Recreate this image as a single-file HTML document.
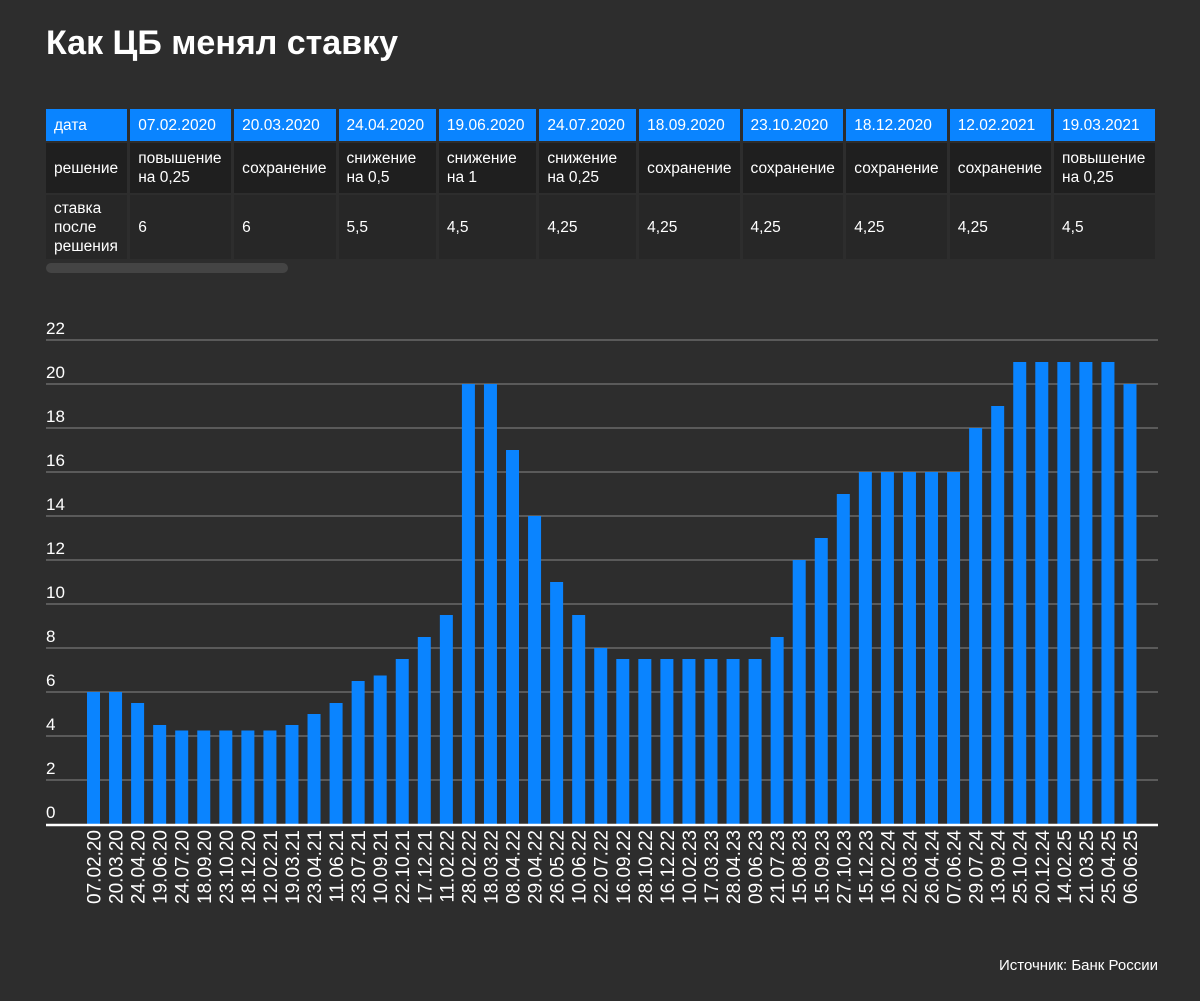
<!DOCTYPE html>
<html><head><meta charset="utf-8"><style>
body{margin:0;background:#2d2d2d;font-family:"Liberation Sans",sans-serif;color:#fff;}
#wrap{position:relative;width:1200px;height:1001px;overflow:hidden;background:#2d2d2d;}
h1{position:absolute;left:46px;top:24px;margin:0;font-size:34px;font-weight:bold;}
table{position:absolute;left:46px;top:107px;border-collapse:separate;border-spacing:3px 2px;margin-left:-3px;font-size:15.5px;}
td{padding:0 8px;vertical-align:middle;white-space:nowrap;line-height:19px;}
tr.h td{background:#0a84ff;height:32px;}
tr.r1 td{background:#1f1f1f;height:50px;}
tr.r2 td{background:#272727;height:64px;}
#scroll{position:absolute;left:46px;top:263px;width:242px;height:10px;border-radius:5px;background:#444;}
#src{position:absolute;right:42px;top:957px;font-size:15px;}
</style></head><body>
<div id="wrap">
<h1>Как ЦБ менял ставку</h1>
<div style="position:absolute;left:43px;top:0;width:1115px;height:300px;overflow:hidden">
<table style="left:3px">
<tr class="h"><td style="width:66px">дата</td><td style="width:86px">07.02.2020</td><td style="width:86px">20.03.2020</td><td style="width:84px">24.04.2020</td><td style="width:84px">19.06.2020</td><td style="width:83px">24.07.2020</td><td style="width:84px">18.09.2020</td><td style="width:85px">23.10.2020</td><td style="width:84px">18.12.2020</td><td style="width:86px">12.02.2021</td><td style="width:86px">19.03.2021</td></tr>
<tr class="r1"><td>решение</td><td>повышение<br>на 0,25</td><td>сохранение</td><td>снижение<br>на 0,5</td><td>снижение<br>на 1</td><td>снижение<br>на 0,25</td><td>сохранение</td><td>сохранение</td><td>сохранение</td><td>сохранение</td><td>повышение<br>на 0,25</td></tr>
<tr class="r2"><td>ставка<br>после<br>решения</td><td>6</td><td>6</td><td>5,5</td><td>4,5</td><td>4,25</td><td>4,25</td><td>4,25</td><td>4,25</td><td>4,25</td><td>4,5</td></tr>
</table></div>
<div id="scroll"></div>
<svg id="chart" width="1200" height="1001" style="position:absolute;left:0;top:0"></svg>
<div id="src">Источник: Банк России</div>
</div>
<script>
const categories=["07.02.20","20.03.20","24.04.20","19.06.20","24.07.20","18.09.20","23.10.20","18.12.20","12.02.21","19.03.21","23.04.21","11.06.21","23.07.21","10.09.21","22.10.21","17.12.21","11.02.22","28.02.22","18.03.22","08.04.22","29.04.22","26.05.22","10.06.22","22.07.22","16.09.22","28.10.22","16.12.22","10.02.23","17.03.23","28.04.23","09.06.23","21.07.23","15.08.23","15.09.23","27.10.23","15.12.23","16.02.24","22.03.24","26.04.24","07.06.24","29.07.24","13.09.24","25.10.24","20.12.24","14.02.25","21.03.25","25.04.25","06.06.25"];
const rates=[6,6,5.5,4.5,4.25,4.25,4.25,4.25,4.25,4.5,5,5.5,6.5,6.75,7.5,8.5,9.5,20,20,17,14,11,9.5,8,7.5,7.5,7.5,7.5,7.5,7.5,7.5,8.5,12,13,15,16,16,16,16,16,18,19,21,21,21,21,21,20];
const yTicks=[0,2,4,6,8,10,12,14,16,18,20,22];
const NS="http://www.w3.org/2000/svg",svg=document.getElementById('chart');
const y0=824,pxPer=22,x0=93.5,step=(1130-93.5)/47,bw=13;
const yS=v=>y0-v*pxPer, xS=i=>x0+i*step;
function mk(t,a){const e=document.createElementNS(NS,t);for(const k in a)e.setAttribute(k,a[k]);svg.appendChild(e);return e;}
yTicks.forEach(v=>{
 if(v>0){const l=mk('line',{x1:46,x2:1158,y1:yS(v),y2:yS(v),stroke:'#6a6a6a','stroke-width':1.5});
 
 }
 const t=mk('text',{x:46,y:yS(v)-6,fill:'#fff','font-size':17,'font-family':'Liberation Sans, sans-serif'});
 t.textContent=v;
 
 
});
rates.forEach((v,i)=>{
 const r=mk('rect',{x:xS(i)-bw/2,y:yS(v),width:bw,height:v*pxPer,fill:'#0a84ff'});
 
 
 const t=mk('text',{transform:`translate(${xS(i)+7},830) rotate(-90)`,'text-anchor':'end',fill:'#fff','font-size':19,'font-family':'Liberation Sans, sans-serif'});
 t.textContent=categories[i];
 
 
});
const b=mk('line',{x1:46,x2:1158,y1:y0+1,y2:y0+1,stroke:'#fff','stroke-width':2.5});


</script>
</body></html>
